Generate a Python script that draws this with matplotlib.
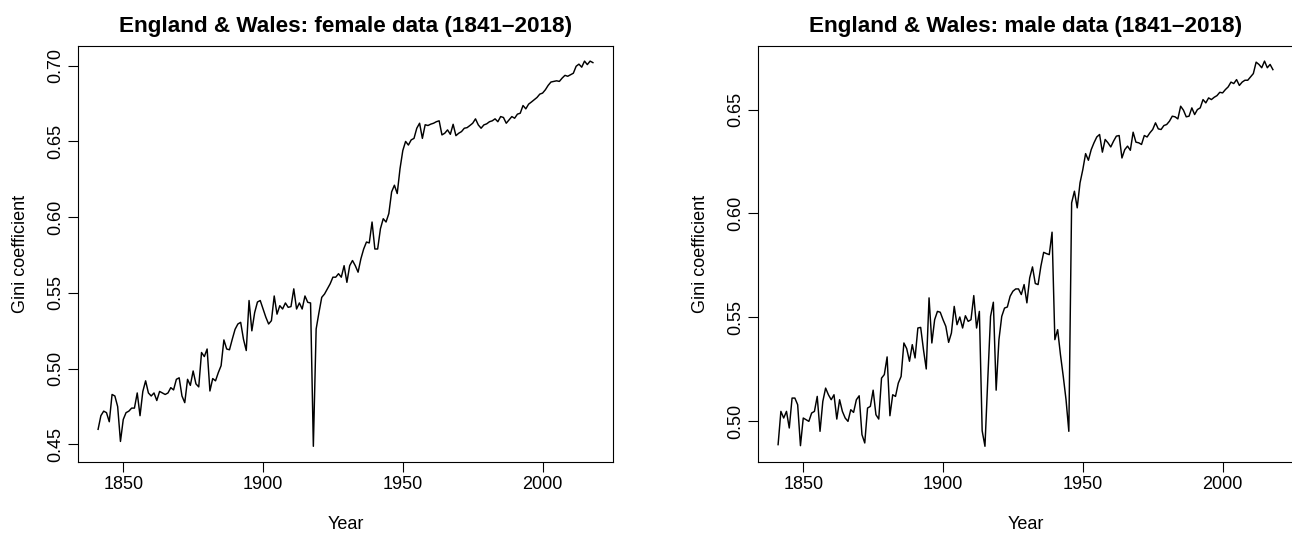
import numpy as np
import matplotlib
matplotlib.use("Agg")
import matplotlib.pyplot as plt
from matplotlib.ticker import FixedLocator, FormatStrFormatter

plt.rcParams['font.family'] = ['Liberation Sans', 'DejaVu Sans']

years = np.arange(1841, 2019)

# Gini coefficient, England & Wales, female (1841-2018)
female = [
    0.460, 0.469, 0.472, 0.471, 0.465, 0.483, 0.482, 0.475, 0.452, 0.4665,  # 1841-1850
    0.471, 0.472, 0.474, 0.474, 0.484, 0.469, 0.485, 0.492, 0.484, 0.482,   # 1851-1860
    0.484, 0.479, 0.485, 0.484, 0.483, 0.484, 0.4875, 0.486, 0.493, 0.494,  # 1861-1870
    0.482, 0.4776, 0.493, 0.489, 0.4985, 0.490, 0.488, 0.5107, 0.508, 0.513,  # 1871-1880
    0.4853, 0.4935, 0.492, 0.4974, 0.502, 0.519, 0.513, 0.5125, 0.5195, 0.526,  # 1881-1890
    0.5295, 0.5306, 0.5195, 0.512, 0.545, 0.525, 0.537, 0.544, 0.545, 0.5394,  # 1891-1900
    0.534, 0.5295, 0.5317, 0.548, 0.536, 0.5416, 0.5394, 0.5434, 0.5405, 0.541,  # 1901-1910
    0.5527, 0.5394, 0.5434, 0.5394, 0.548, 0.5438, 0.5434, 0.4488, 0.5262, 0.537,  # 1911-1920
    0.5471, 0.5493, 0.5527, 0.556, 0.5604, 0.5604, 0.5627, 0.5604, 0.568, 0.557,  # 1921-1930
    0.568, 0.5714, 0.568, 0.5637, 0.5725, 0.579, 0.5836, 0.583, 0.5968, 0.579,  # 1931-1940
    0.579, 0.5924, 0.599, 0.5968, 0.6024, 0.6167, 0.6211, 0.6156, 0.632, 0.644,  # 1941-1950
    0.650, 0.6476, 0.651, 0.652, 0.6587, 0.662, 0.652, 0.661, 0.6605, 0.6614,  # 1951-1960
    0.662, 0.663, 0.6636, 0.6543, 0.6554, 0.6576, 0.6547, 0.6613, 0.6538, 0.6554,  # 1961-1970
    0.6565, 0.6587, 0.6591, 0.6605, 0.662, 0.6649, 0.6609, 0.6587, 0.6609, 0.6616,  # 1971-1980
    0.663, 0.6636, 0.6649, 0.663, 0.6664, 0.6658, 0.662, 0.6642, 0.6664, 0.6653,  # 1981-1990
    0.668, 0.6686, 0.6737, 0.6715, 0.6746, 0.676, 0.6775, 0.679, 0.6812, 0.6819,  # 1991-2000
    0.6841, 0.687, 0.6892, 0.6896, 0.690, 0.6896, 0.6918, 0.6936, 0.693, 0.694,  # 2001-2010
    0.695, 0.6996, 0.701, 0.699, 0.703, 0.7007, 0.703, 0.702,  # 2011-2018
]

# Gini coefficient, England & Wales, male (1841-2018)
male = [
    0.4888, 0.5048, 0.5016, 0.5048, 0.4968, 0.5112, 0.5112, 0.508, 0.4883, 0.5016,  # 1841-1850
    0.5008, 0.500, 0.504, 0.5048, 0.512, 0.4952, 0.5096, 0.516, 0.5128, 0.5104,  # 1851-1860
    0.5128, 0.5011, 0.5104, 0.5048, 0.5016, 0.500, 0.5056, 0.5043, 0.5104, 0.5123,  # 1861-1870
    0.4936, 0.4896, 0.5064, 0.5072, 0.515, 0.5032, 0.5011, 0.5208, 0.5225, 0.531,  # 1871-1880
    0.5027, 0.5128, 0.512, 0.5184, 0.5216, 0.5377, 0.535, 0.5289, 0.5369, 0.5305,  # 1881-1890
    0.5449, 0.5452, 0.5345, 0.5252, 0.5594, 0.5377, 0.5489, 0.5529, 0.5525, 0.5489,  # 1891-1900
    0.5457, 0.538, 0.5425, 0.5553, 0.5465, 0.5502, 0.5449, 0.5508, 0.5481, 0.5489,  # 1901-1910
    0.5605, 0.5449, 0.5529, 0.4955, 0.488, 0.520, 0.5505, 0.5573, 0.515, 0.5393,  # 1911-1920
    0.5505, 0.5545, 0.555, 0.5602, 0.5626, 0.5637, 0.5637, 0.561, 0.5658, 0.557,  # 1921-1930
    0.569, 0.5743, 0.5663, 0.5658, 0.5746, 0.5813, 0.5807, 0.5802, 0.591, 0.5393,  # 1931-1940
    0.5441, 0.5321, 0.5217, 0.5104, 0.4952, 0.6051, 0.6107, 0.6027, 0.6147, 0.6211,  # 1941-1950
    0.6288, 0.6256, 0.6307, 0.634, 0.6368, 0.638, 0.6295, 0.6356, 0.634, 0.632,  # 1951-1960
    0.6348, 0.6372, 0.6375, 0.6267, 0.6307, 0.6324, 0.6304, 0.6391, 0.6343, 0.634,  # 1961-1970
    0.6332, 0.6375, 0.6368, 0.6388, 0.6404, 0.6436, 0.6407, 0.6404, 0.6423, 0.6428,  # 1971-1980
    0.6444, 0.6468, 0.6465, 0.6455, 0.6516, 0.6497, 0.6465, 0.6468, 0.6508, 0.6476,  # 1981-1990
    0.650, 0.6508, 0.6548, 0.6532, 0.6556, 0.6548, 0.6559, 0.6567, 0.6583, 0.658,  # 1991-2000
    0.6596, 0.6609, 0.6632, 0.6625, 0.6644, 0.6616, 0.6632, 0.6641, 0.6641, 0.6657,  # 2001-2010
    0.6673, 0.6728, 0.6717, 0.6701, 0.6733, 0.6701, 0.6717, 0.6692,  # 2011-2018
]

titles = ["England & Wales: female data (1841\u20132018)",
          "England & Wales: male data (1841\u20132018)"]
year_ticks = [1850, 1900, 1950, 2000]
female_ticks = [0.45, 0.50, 0.55, 0.60, 0.65, 0.70]
male_ticks = [0.50, 0.55, 0.60, 0.65]

W, H = 1292, 534
fig = plt.figure(figsize=(W / 100, H / 100), dpi=100)

box_w, box_h = 534.4, 416.0
box_bottom = 461.7
lefts = [78.3, 758.3]

def r_style(ax, data, yt, title):
    ax.plot(years, data, color='black', linewidth=1.05)
    ax.margins(x=0.04, y=0.04)
    ax.xaxis.set_major_locator(FixedLocator(year_ticks))
    ax.yaxis.set_major_locator(FixedLocator(yt))
    ax.yaxis.set_major_formatter(FormatStrFormatter('%.2f'))
    for s in ax.spines.values():
        s.set_linewidth(0.8)
        s.set_color('black')
    ax.tick_params(direction='out', length=7.2, width=0.8, labelsize=13, pad=3)
    for lab in ax.get_yticklabels():
        lab.set_rotation(90)
        lab.set_va('center')
    ax.set_xlabel("Year", fontsize=13, labelpad=17)
    ax.set_ylabel("Gini coefficient", fontsize=13, labelpad=13)
    ax.set_title(title, fontsize=16.2, fontweight='bold', pad=10)

for left, data, yt, title in zip(lefts, [female, male], [female_ticks, male_ticks], titles):
    ax = fig.add_axes([left / W, (H - box_bottom) / H, box_w / W, box_h / H])
    r_style(ax, data, yt, title)

fig.savefig("out.png", dpi=100)
